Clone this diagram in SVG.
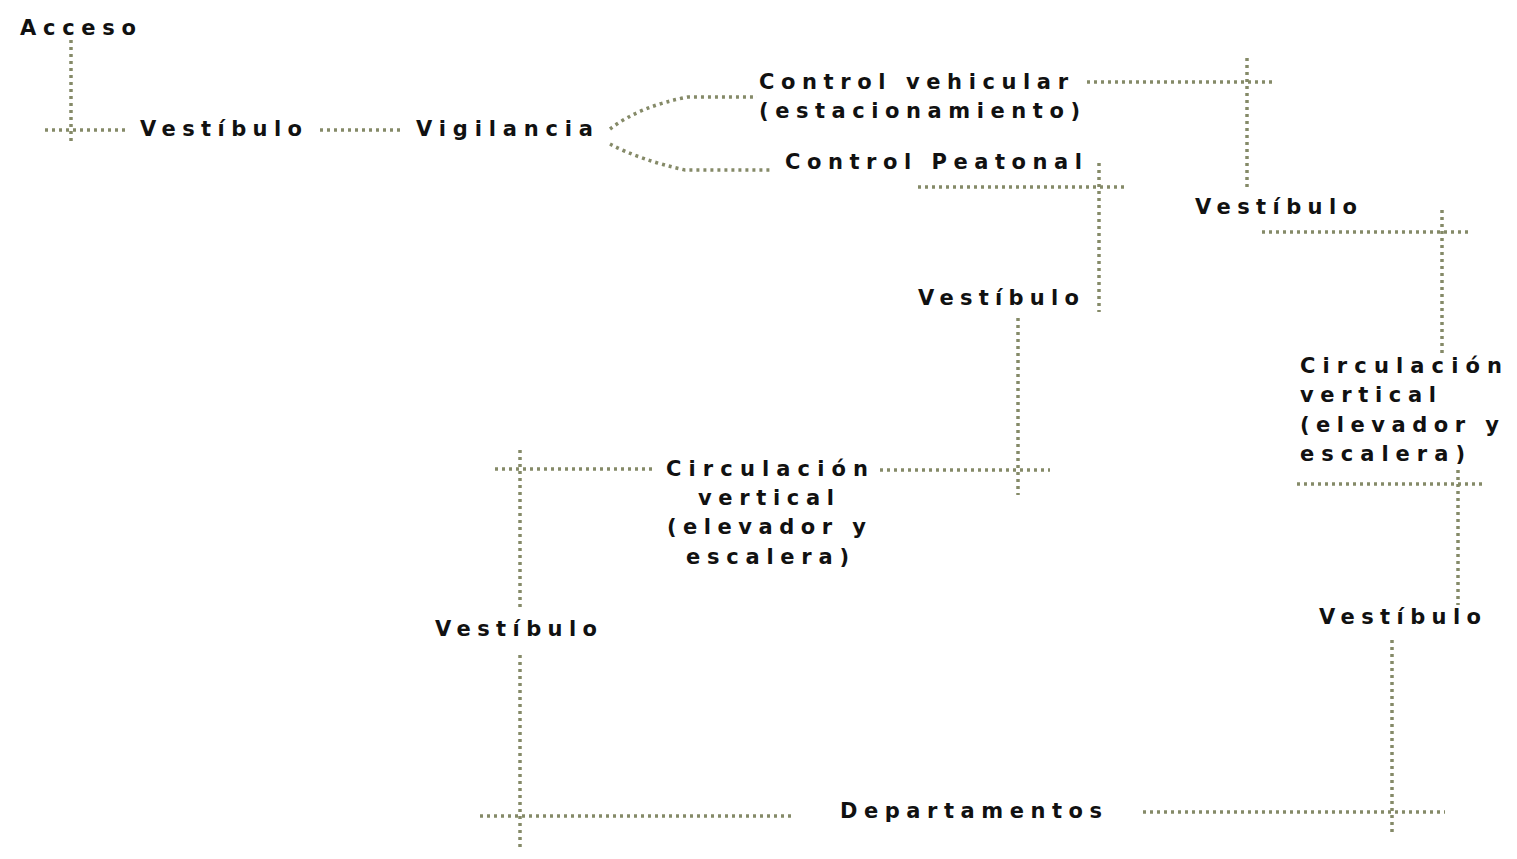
<svg xmlns="http://www.w3.org/2000/svg" width="1517" height="859" viewBox="0 0 1517 859">
<style>
.t{font-family:"DejaVu Sans","Liberation Sans",Arial,sans-serif;font-weight:bold;font-size:21px;fill:#111}
.c{fill:none;stroke:#858a68;stroke-width:3.5;stroke-dasharray:3 4}
</style>
<rect width="1517" height="859" fill="#fff"/>
<g id="connectors">
<path class="c" d="M71,40 V143"/>
<path class="c" d="M45,130 H125"/>
<path class="c" d="M320,130 H400"/>
<path class="c" d="M610,129 Q640,106 688,97 H757"/>
<path class="c" d="M610,144 Q640,160 685,170 H773"/>
<path class="c" d="M1087,82 H1272"/>
<path class="c" d="M1247,58 V190"/>
<path class="c" d="M1099,163 V312"/>
<path class="c" d="M918,187 H1125"/>
<path class="c" d="M1262,232 H1470"/>
<path class="c" d="M1442,210 V355"/>
<path class="c" d="M1018,318 V495"/>
<path class="c" d="M880,470 H1050"/>
<path class="c" d="M495,469 H655"/>
<path class="c" d="M520,450 V610"/>
<path class="c" d="M520,655 V850"/>
<path class="c" d="M480,816 H792"/>
<path class="c" d="M1143,812 H1445"/>
<path class="c" d="M1392,640 V835"/>
<path class="c" d="M1297,484 H1483"/>
<path class="c" d="M1458,470 V605"/>
</g>
<g id="acceso"><text class="t" x="20" y="35" textLength="116" lengthAdjust="spacing">Acceso</text></g>
<g id="vestibulo1"><text class="t" x="140" y="136" textLength="162" lengthAdjust="spacing">Vestíbulo</text></g>
<g id="vigilancia"><text class="t" x="416" y="136" textLength="177" lengthAdjust="spacing">Vigilancia</text></g>
<g id="control-vehicular">
<text class="t" x="759" y="89" textLength="309" lengthAdjust="spacing">Control vehicular</text>
<text class="t" x="759" y="118" textLength="321" lengthAdjust="spacing">(estacionamiento)</text>
</g>
<g id="control-peatonal"><text class="t" x="785" y="169" textLength="297" lengthAdjust="spacing">Control Peatonal</text></g>
<g id="vestibulo2"><text class="t" x="1195" y="214" textLength="162" lengthAdjust="spacing">Vestíbulo</text></g>
<g id="vestibulo3"><text class="t" x="918" y="305" textLength="161" lengthAdjust="spacing">Vestíbulo</text></g>
<g id="circulacion-derecha">
<text class="t" x="1300" y="373" textLength="202" lengthAdjust="spacing">Circulación</text>
<text class="t" x="1300" y="402" textLength="136" lengthAdjust="spacing">vertical</text>
<text class="t" x="1300" y="432" textLength="199" lengthAdjust="spacing">(elevador y</text>
<text class="t" x="1300" y="461" textLength="165" lengthAdjust="spacing">escalera)</text>
</g>
<g id="circulacion-centro">
<text class="t" x="666" y="476" textLength="202" lengthAdjust="spacing">Circulación</text>
<text class="t" x="698" y="505" textLength="136" lengthAdjust="spacing">vertical</text>
<text class="t" x="667" y="534" textLength="199" lengthAdjust="spacing">(elevador y</text>
<text class="t" x="686" y="564" textLength="163" lengthAdjust="spacing">escalera)</text>
</g>
<g id="vestibulo4"><text class="t" x="435" y="636" textLength="162" lengthAdjust="spacing">Vestíbulo</text></g>
<g id="vestibulo5"><text class="t" x="1319" y="624" textLength="162" lengthAdjust="spacing">Vestíbulo</text></g>
<g id="departamentos"><text class="t" x="840" y="818" textLength="262" lengthAdjust="spacing">Departamentos</text></g>
</svg>
